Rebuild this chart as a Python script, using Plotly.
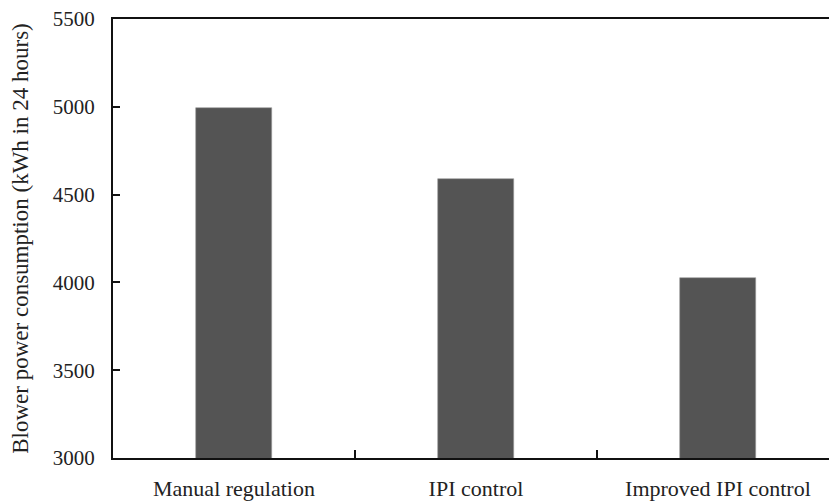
import plotly.graph_objects as go

categories = ["Manual regulation", "IPI control", "Improved IPI control"]
power_kwh = [4995, 4590, 4025]
y_ticks = [3000, 3500, 4000, 4500, 5000, 5500]

font_family = "Liberation Serif, Times New Roman, serif"

fig = go.Figure()
fig.add_trace(go.Bar(
    x=categories,
    y=power_kwh,
    width=0.314,
    marker=dict(color="#545454", line=dict(color="#9a9a9a", width=0.6)),
))

fig.update_layout(
    width=829,
    height=501,
    margin=dict(l=113, r=0, t=19, b=39),
    paper_bgcolor="white",
    plot_bgcolor="white",
    showlegend=False,
    font=dict(family=font_family, color="#222222", size=22),
    bargap=0,
)

fig.update_xaxes(
    type="category",
    range=[-0.5, 2.459],
    showline=True,
    linecolor="#111111",
    linewidth=2,
    mirror=True,
    ticks="inside",
    tickson="boundaries",
    ticklen=8,
    tickwidth=2,
    tickcolor="#111111",
    ticklabelstandoff=10,
    showgrid=False,
    zeroline=False,
    tickfont=dict(family=font_family, size=22, color="#222222"),
)

fig.update_yaxes(
    range=[3000, 5500],
    tickvals=y_ticks,
    ticktext=[str(v) for v in y_ticks],
    showline=True,
    linecolor="#111111",
    linewidth=2,
    mirror=False,
    ticks="inside",
    ticklen=7,
    tickwidth=2,
    tickcolor="#111111",
    ticklabelstandoff=12,
    showgrid=False,
    zeroline=False,
    tickfont=dict(family=font_family, size=21, color="#222222"),
    title=dict(
        text="Blower power consumption (kWh in 24 hours)",
        font=dict(family=font_family, size=23, color="#222222"),
        standoff=18,
    ),
)

fig.write_html("out.html")
